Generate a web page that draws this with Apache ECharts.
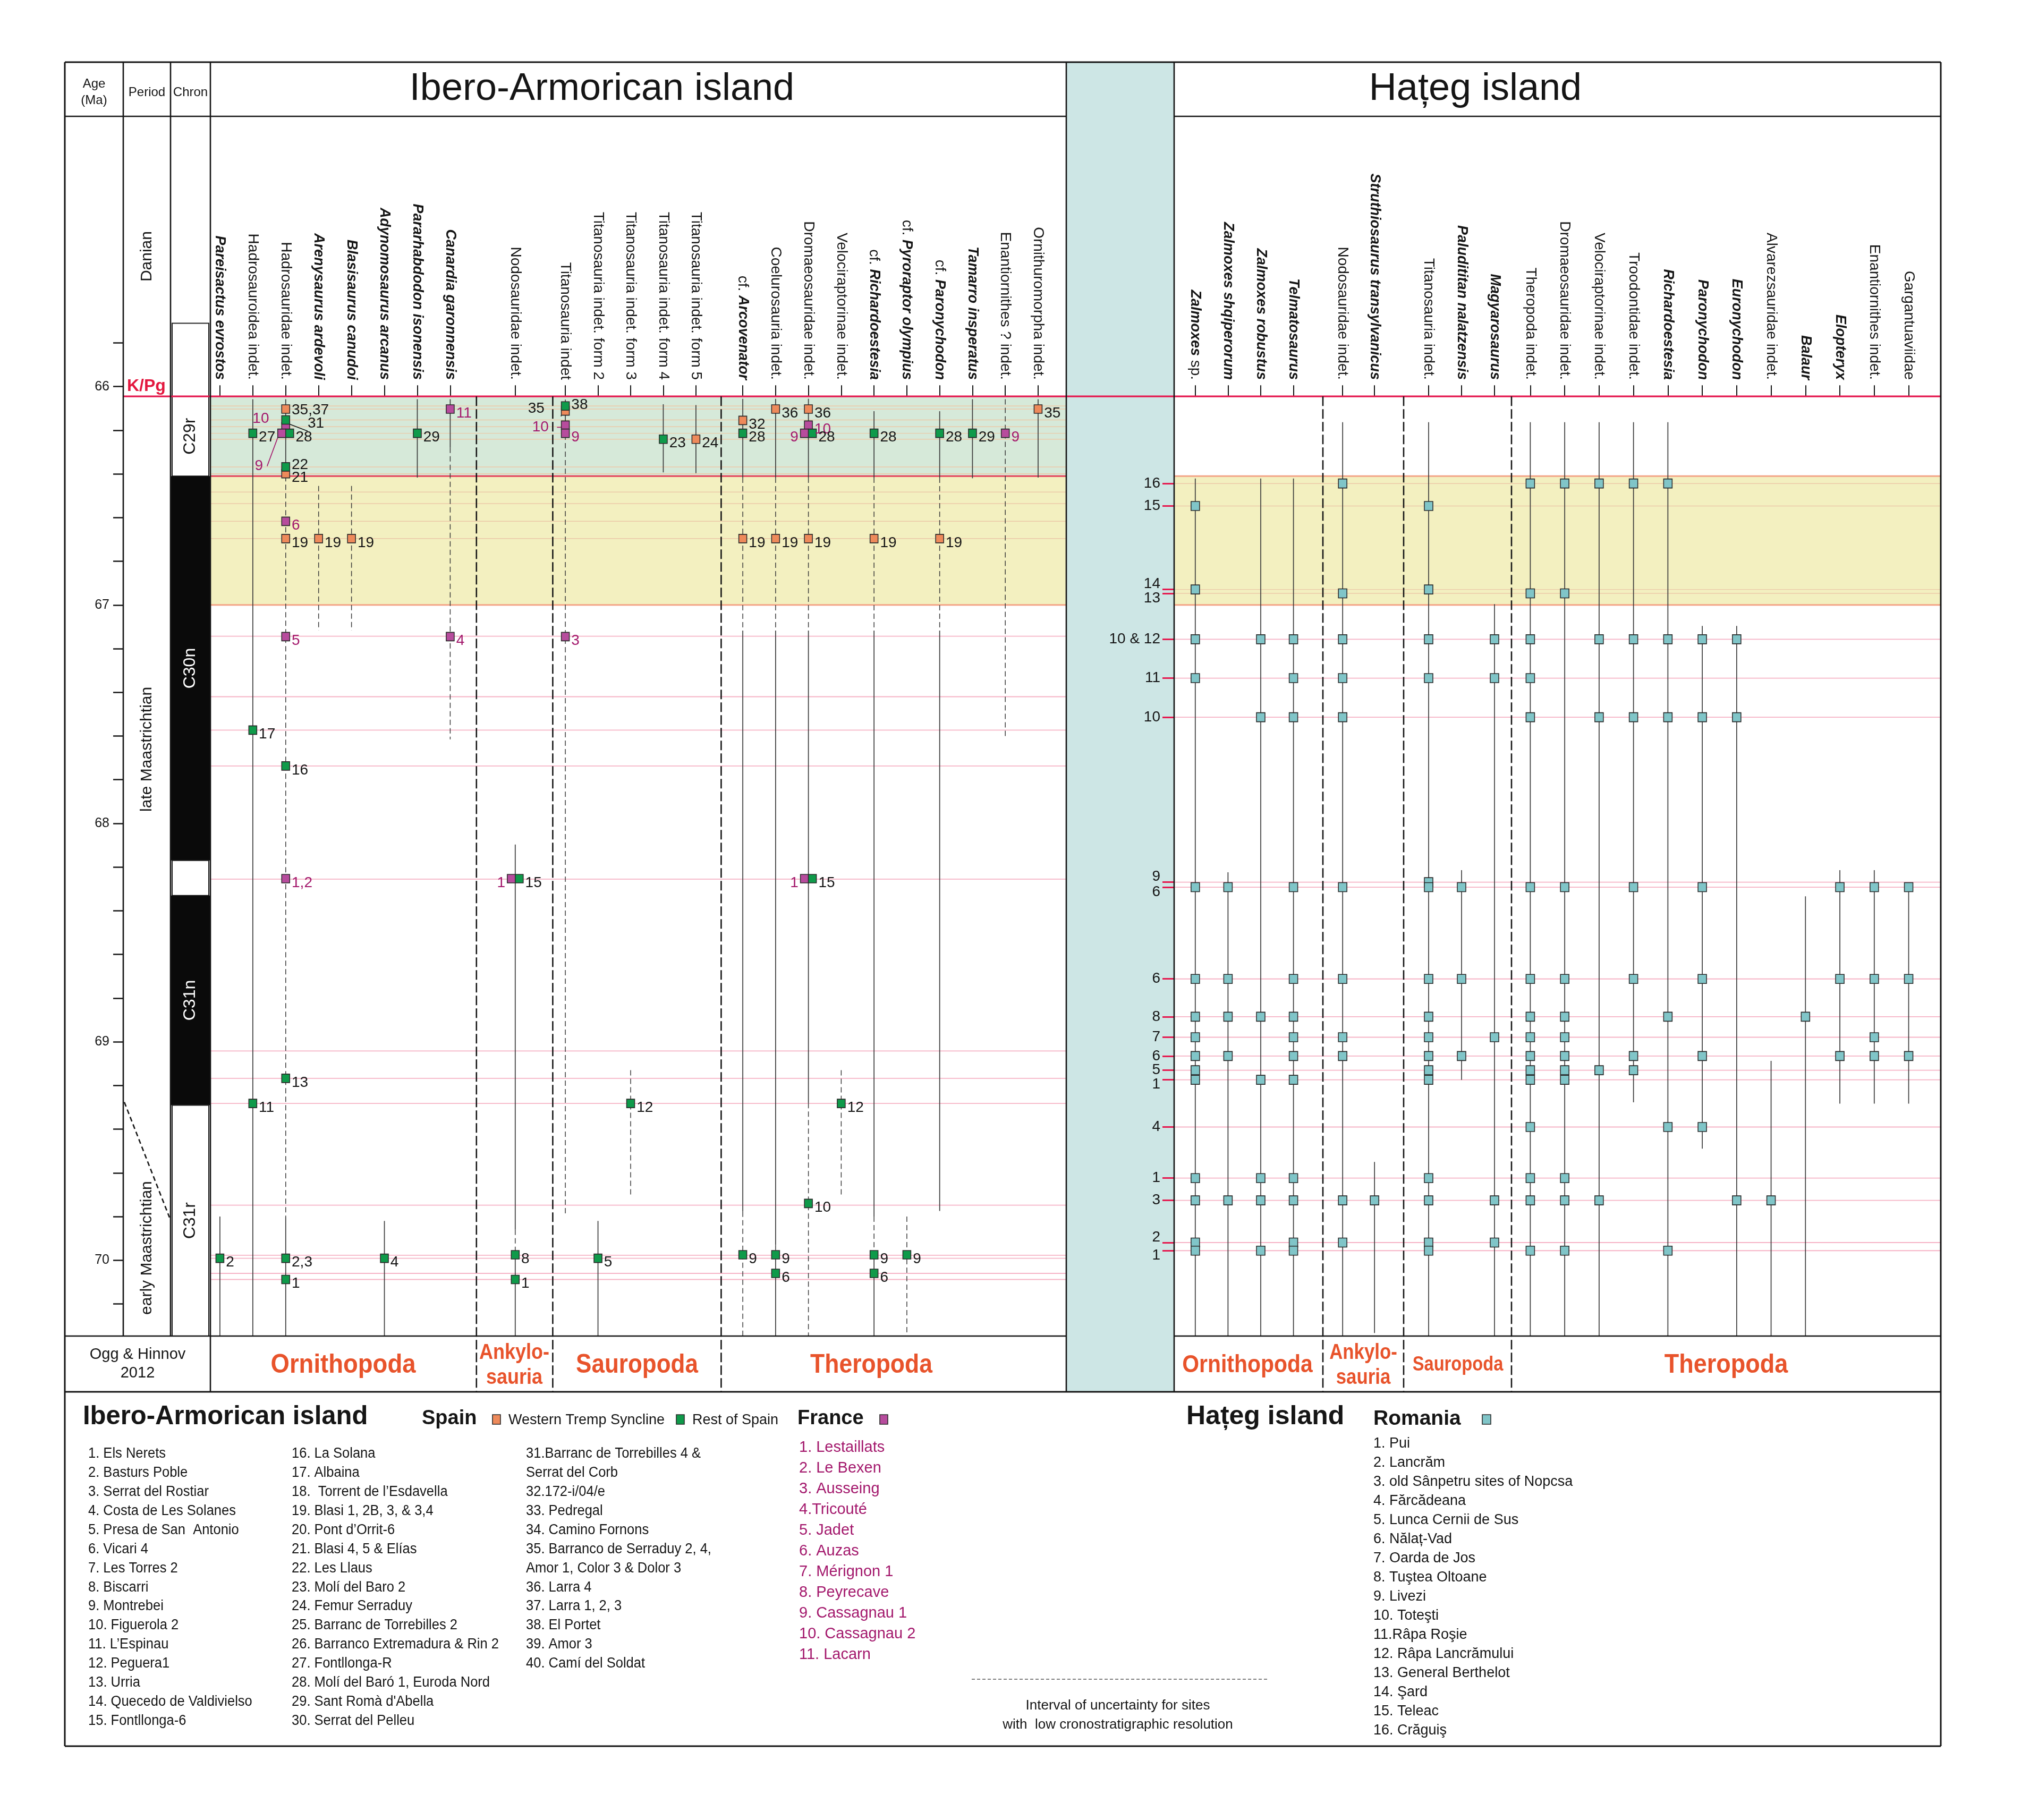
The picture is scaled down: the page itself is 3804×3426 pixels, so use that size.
<!DOCTYPE html>
<html><head><meta charset="utf-8">
<script src="https://cdn.jsdelivr.net/npm/echarts@6/dist/echarts.min.js"></script>
<style>html,body{margin:0;padding:0;background:#fff}#c{width:3804px;height:3426px}</style>
</head><body><div id="c"></div>
<script>
// ======================= DATA =======================
const AGE_TOP = 64.763;      // age at top of plot area (Ma)
const AGE_BOTTOM = 70.347;   // age at bottom of plot area (Ma)
const KPG = 66.045;          // K/Pg boundary (Ma)

const ageTicks = [65.8,66.0,66.2,66.4,66.6,66.8,67.0,67.2,67.4,67.6,67.8,68.0,68.2,68.4,68.6,68.8,69.0,69.2,69.4,69.6,69.8,70.0,70.2];
const ageLabels = [66,67,68,69,70];

const periods = [['Danian',64.763,66.045],['late Maastrichtian',66.045,69.276],['early Maastrichtian',69.54,70.347]];
const periodBoundary = [69.276, 69.804];
const chrons = [['C29r',65.71,66.41,'r'],['C30n',66.41,68.17,'n'],['',68.17,68.33,'r'],['C31n',68.33,69.29,'n'],['C31r',69.29,70.347,'r']];

const iberoBands = [[66.045,66.41],[66.41,67.0]];
const hategBands = [[66.41,67.0]];

const iberoLevels = [66.089,66.103,66.153,66.184,66.214,66.241,66.368,66.399,66.483,66.536,66.617,66.696,67.143,67.42,67.573,67.737,68.255,69.042,69.167,69.282,69.748,69.977,69.991,70.06,70.088];
const hategLevels = [['16',66.444],['15',66.547],['14',66.929],['13',66.947],['10 & 12',67.157],['11',67.335],['10',67.514],['9',68.269],['6',68.292],['6',68.712],['8',68.885],['7',68.979],['6',69.065],['5',69.13],['1',69.174],['4',69.39],['1',69.624],['3',69.726],['2',69.919],['1',69.956]];

const iberoOrnithopoda = ['Pareisactus evrostos','Hadrosauroidea indet.','Hadrosauridae indet.','Arenysaurus ardevoli','Blasisaurus canudoi','Adynomosaurus arcanus','Pararhabdodon isonensis','Canardia garonnensis'];
const iberoAnkylosauria = ['Nodosauridae indet.'];
const iberoSauropoda = ['Titanosauria indet','Titanosauria indet. form 2','Titanosauria indet. form 3','Titanosauria indet. form 4','Titanosauria indet. form 5'];
const iberoTheropoda = ['cf. Arcovenator','Coelurosauria indet.','Dromaeosauridae indet.','Velociraptorinae indet.','cf. Richardoestesia','cf. Pyroraptor olympius','cf. Paronychodon','Tamarro insperatus','Enantiornithes ? indet.','Ornithuromorpha indet.'];
const iberoItalic = ['Pareisactus evrostos','Arenysaurus ardevoli','Blasisaurus canudoi','Adynomosaurus arcanus','Pararhabdodon isonensis','Canardia garonnensis','cf. Arcovenator','cf. Richardoestesia','cf. Pyroraptor olympius','cf. Paronychodon','Tamarro insperatus'];

const hategOrnithopoda = ['Zalmoxes sp.','Zalmoxes shqiperorum','Zalmoxes robustus','Telmatosaurus'];
const hategAnkylosauria = ['Nodosauridae indet.','Struthiosaurus transylvanicus'];
const hategSauropoda = ['Titanosauria indet.','Paludititan nalatzensis','Magyarosaurus'];
const hategTheropoda = ['Theropoda indet.','Dromaeosauridae indet.','Velociraptorinae indet.','Troodontidae indet.','Richardoestesia','Paronychodon','Euronychodon','Alvarezsauridae indet.','Balaur','Elopteryx','Enantiornithes indet.','Gargantuaviidae'];
const hategItalic = ['Zalmoxes sp.','Zalmoxes shqiperorum','Zalmoxes robustus','Telmatosaurus','Struthiosaurus transylvanicus','Paludititan nalatzensis','Magyarosaurus','Richardoestesia','Paronychodon','Euronychodon','Balaur','Elopteryx'];

// [taxon, age (Ma), site label, region]  W = Western Tremp Syncline, S = rest of Spain, F = France
const iberoPoints = [
 ['Pareisactus evrostos',69.991,'2','S'],
 ['Hadrosauroidea indet.',66.214,'27','S'],['Hadrosauroidea indet.',67.573,'17','S'],['Hadrosauroidea indet.',69.282,'11','S'],
 ['Hadrosauridae indet.',66.184,'10','F'],['Hadrosauridae indet.',66.103,'35,37','W'],['Hadrosauridae indet.',66.153,'31','S'],
 ['Hadrosauridae indet.',66.214,'9','F'],['Hadrosauridae indet.',66.214,'28','S'],['Hadrosauridae indet.',66.399,'21','W'],
 ['Hadrosauridae indet.',66.368,'22','S'],['Hadrosauridae indet.',66.617,'6','F'],['Hadrosauridae indet.',66.696,'19','W'],
 ['Hadrosauridae indet.',67.145,'5','F'],['Hadrosauridae indet.',67.737,'16','S'],['Hadrosauridae indet.',68.253,'1,2','F'],
 ['Hadrosauridae indet.',69.167,'13','S'],['Hadrosauridae indet.',69.991,'2,3','S'],['Hadrosauridae indet.',70.088,'1','S'],
 ['Arenysaurus ardevoli',66.696,'19','W'],['Blasisaurus canudoi',66.696,'19','W'],['Adynomosaurus arcanus',69.991,'4','S'],
 ['Pararhabdodon isonensis',66.214,'29','S'],['Canardia garonnensis',66.103,'11','F'],['Canardia garonnensis',67.145,'4','F'],
 ['Nodosauridae indet.',68.253,'1','F'],['Nodosauridae indet.',68.253,'15','S'],['Nodosauridae indet.',69.975,'8','S'],['Nodosauridae indet.',70.088,'1','S'],
 ['Titanosauria indet',66.112,'35','W'],['Titanosauria indet',66.089,'38','S'],['Titanosauria indet',66.177,'10','F'],
 ['Titanosauria indet',66.214,'9','F'],['Titanosauria indet',67.145,'3','F'],
 ['Titanosauria indet. form 2',69.991,'5','S'],['Titanosauria indet. form 3',69.282,'12','S'],
 ['Titanosauria indet. form 4',66.241,'23','S'],['Titanosauria indet. form 5',66.241,'24','W'],
 ['cf. Arcovenator',66.155,'32','W'],['cf. Arcovenator',66.214,'28','S'],['cf. Arcovenator',66.696,'19','W'],['cf. Arcovenator',69.975,'9','S'],
 ['Coelurosauria indet.',66.103,'36','W'],['Coelurosauria indet.',66.696,'19','W'],['Coelurosauria indet.',69.975,'9','S'],['Coelurosauria indet.',70.06,'6','S'],
 ['Dromaeosauridae indet.',66.103,'36','W'],['Dromaeosauridae indet.',66.177,'10','F'],['Dromaeosauridae indet.',66.214,'9','F'],
 ['Dromaeosauridae indet.',66.214,'28','S'],['Dromaeosauridae indet.',66.696,'19','W'],['Dromaeosauridae indet.',68.253,'1','F'],
 ['Dromaeosauridae indet.',68.253,'15','S'],['Dromaeosauridae indet.',69.74,'10','S'],
 ['Velociraptorinae indet.',69.282,'12','S'],
 ['cf. Richardoestesia',66.214,'28','S'],['cf. Richardoestesia',66.696,'19','W'],['cf. Richardoestesia',69.975,'9','S'],['cf. Richardoestesia',70.06,'6','S'],
 ['cf. Pyroraptor olympius',69.975,'9','S'],
 ['cf. Paronychodon',66.214,'28','S'],['cf. Paronychodon',66.696,'19','W'],
 ['Tamarro insperatus',66.214,'29','S'],['Enantiornithes ? indet.',66.214,'9','F'],['Ornithuromorpha indet.',66.103,'35','W']
];

// [taxon, from (Ma), to (Ma), line type]
const iberoRanges = [
 ['Pareisactus evrostos',69.80,70.347,'solid'],
 ['Hadrosauroidea indet.',66.058,70.347,'solid'],
 ['Hadrosauridae indet.',66.058,66.41,'solid'],['Hadrosauridae indet.',66.41,69.80,'dashed'],['Hadrosauridae indet.',69.80,70.347,'solid'],
 ['Arenysaurus ardevoli',66.455,67.117,'dashed'],['Blasisaurus canudoi',66.455,67.117,'dashed'],
 ['Adynomosaurus arcanus',69.82,70.347,'solid'],['Pararhabdodon isonensis',66.058,66.417,'solid'],
 ['Canardia garonnensis',66.058,66.28,'solid'],['Canardia garonnensis',66.28,67.615,'dashed'],
 ['Nodosauridae indet.',68.097,69.86,'solid'],['Nodosauridae indet.',69.86,69.975,'dashed'],['Nodosauridae indet.',69.975,70.347,'solid'],
 ['Titanosauria indet',66.06,66.22,'solid'],['Titanosauria indet',66.22,69.80,'dashed'],
 ['Titanosauria indet. form 2',69.82,70.347,'solid'],['Titanosauria indet. form 3',69.13,69.70,'dashed'],
 ['Titanosauria indet. form 4',66.081,66.393,'solid'],['Titanosauria indet. form 5',66.085,66.397,'solid'],
 ['cf. Arcovenator',66.056,66.417,'solid'],['cf. Arcovenator',66.417,67.117,'dashed'],['cf. Arcovenator',67.117,69.777,'solid'],['cf. Arcovenator',69.777,70.347,'dashed'],
 ['Coelurosauria indet.',66.056,66.417,'solid'],['Coelurosauria indet.',66.417,67.117,'dashed'],['Coelurosauria indet.',67.117,69.93,'solid'],['Coelurosauria indet.',69.93,69.975,'dashed'],['Coelurosauria indet.',69.975,70.347,'solid'],
 ['Dromaeosauridae indet.',66.056,66.417,'solid'],['Dromaeosauridae indet.',66.417,67.117,'dashed'],['Dromaeosauridae indet.',67.117,69.28,'solid'],['Dromaeosauridae indet.',69.28,70.347,'dashed'],
 ['Velociraptorinae indet.',69.13,69.70,'dashed'],
 ['cf. Richardoestesia',66.113,66.417,'solid'],['cf. Richardoestesia',66.417,67.117,'dashed'],['cf. Richardoestesia',67.117,69.80,'solid'],['cf. Richardoestesia',69.80,69.975,'dashed'],['cf. Richardoestesia',69.975,70.347,'solid'],
 ['cf. Pyroraptor olympius',69.80,70.347,'dashed'],
 ['cf. Paronychodon',66.113,66.417,'solid'],['cf. Paronychodon',66.417,67.117,'dashed'],['cf. Paronychodon',67.117,69.774,'solid'],
 ['Tamarro insperatus',66.058,66.42,'solid'],['Enantiornithes ? indet.',66.058,67.603,'dashed'],['Ornithuromorpha indet.',66.058,66.417,'solid']
];

// Haţeg occurrences: [taxon, [ages (Ma)]]
const hategPoints = [
 ['Zalmoxes sp.',[66.547,66.929,67.157,67.335,68.292,68.712,68.885,68.979,69.065,69.13,69.174,69.624,69.726,69.919,69.956]],
 ['Zalmoxes shqiperorum',[68.292,68.712,68.885,69.065,69.726]],
 ['Zalmoxes robustus',[67.157,67.514,68.885,69.174,69.624,69.726,69.956]],
 ['Telmatosaurus',[67.157,67.335,67.514,68.292,68.712,68.885,68.979,69.065,69.174,69.624,69.726,69.919,69.956]],
 ['Nodosauridae indet.',[66.444,66.947,67.157,67.335,67.514,68.292,68.712,68.979,69.065,69.726,69.919]],
 ['Struthiosaurus transylvanicus',[69.726]],
 ['Titanosauria indet.',[66.547,66.929,67.157,67.335,68.269,68.292,68.712,68.885,68.979,69.065,69.13,69.174,69.624,69.726,69.919,69.956]],
 ['Paludititan nalatzensis',[68.292,68.712,69.065]],
 ['Magyarosaurus',[67.157,67.335,68.979,69.726,69.919]],
 ['Theropoda indet.',[66.444,66.947,67.157,67.335,67.514,68.292,68.712,68.885,68.979,69.065,69.13,69.174,69.39,69.624,69.726,69.956]],
 ['Dromaeosauridae indet.',[66.444,66.947,68.292,68.712,68.885,68.979,69.065,69.13,69.174,69.624,69.726,69.956]],
 ['Velociraptorinae indet.',[66.444,67.157,67.514,69.13,69.726]],
 ['Troodontidae indet.',[66.444,67.157,67.514,68.292,68.712,69.065,69.13]],
 ['Richardoestesia',[66.444,67.157,67.514,68.885,69.39,69.956]],
 ['Paronychodon',[67.157,67.514,68.292,68.712,69.065,69.39]],
 ['Euronychodon',[67.157,67.514,69.726]],
 ['Alvarezsauridae indet.',[69.726]],
 ['Balaur',[68.885]],
 ['Elopteryx',[68.292,68.712,69.065]],
 ['Enantiornithes indet.',[68.292,68.712,68.979,69.065]],
 ['Gargantuaviidae',[68.292,68.712,69.065]]
];
const hategRanges = [
 ['Zalmoxes sp.',66.421,70.347],['Zalmoxes shqiperorum',68.224,70.347],['Zalmoxes robustus',66.421,70.347],['Telmatosaurus',66.421,70.347],
 ['Nodosauridae indet.',66.163,70.347],['Struthiosaurus transylvanicus',69.55,70.333],
 ['Titanosauria indet.',66.163,70.347],['Paludititan nalatzensis',68.214,69.174],['Magyarosaurus',66.996,70.347],
 ['Theropoda indet.',66.163,70.347],['Dromaeosauridae indet.',66.163,70.347],['Velociraptorinae indet.',66.163,70.347],
 ['Troodontidae indet.',66.163,69.277],['Richardoestesia',66.163,70.347],['Paronychodon',67.096,69.489],['Euronychodon',67.096,70.347],
 ['Alvarezsauridae indet.',69.087,70.347],['Balaur',68.334,70.347],['Elopteryx',68.214,69.283],['Enantiornithes indet.',68.214,69.283],['Gargantuaviidae',68.272,69.283]
];

const groupNames = ['Ornithopoda','Ankylo-\nsauria','Sauropoda','Theropoda'];

const spainSites1 = ['1. Els Nerets','2. Basturs Poble','3. Serrat del Rostiar','4. Costa de Les Solanes','5. Presa de San  Antonio','6. Vicari 4','7. Les Torres 2','8. Biscarri','9. Montrebei','10. Figuerola 2','11. L\u2019Espinau','12. Peguera1','13. Urria','14. Quecedo de Valdivielso','15. Fontllonga-6'];
const spainSites2 = ['16. La Solana','17. Albaina','18.  Torrent de l\u2019Esdavella','19. Blasi 1, 2B, 3, & 3,4','20. Pont d\u2019Orrit-6','21. Blasi 4, 5 & El\u00edas','22. Les Llaus','23. Mol\u00ed del Baro 2','24. Femur Serraduy','25. Barranc de Torrebilles 2','26. Barranco Extremadura & Rin 2','27. Fontllonga-R','28. Mol\u00ed del Bar\u00f3 1, Euroda Nord','29. Sant Rom\u00e0 d\'Abella','30. Serrat del Pelleu'];
const spainSites3 = ['31.Barranc de Torrebilles 4 &','Serrat del Corb','32.172-i/04/e','33. Pedregal','34. Camino Fornons','35. Barranco de Serraduy 2, 4,','Amor 1, Color 3 & Dolor 3','36. Larra 4','37. Larra 1, 2, 3','38. El Portet','39. Amor 3','40. Cam\u00ed del Soldat'];
const franceSites = ['1. Lestaillats','2. Le Bexen','3. Ausseing','4.Tricout\u00e9','5. Jadet','6. Auzas','7. M\u00e9rignon 1','8. Peyrecave','9. Cassagnau 1','10. Cassagnau 2','11. Lacarn'];
const romaniaSites = ['1. Pui','2. Lancr\u0103m','3. old S\u00e2npetru sites of Nopcsa','4. F\u0103rc\u0103deana','5. Lunca Cernii de Sus','6. N\u0103la\u021b-Vad','7. Oarda de Jos','8. Tu\u015ftea Oltoane','9. Livezi','10. Tote\u015fti','11.R\u00e2pa Ro\u015fie','12. R\u00e2pa Lancr\u0103mului','13. General Berthelot','14. \u015eard','15. Teleac','16. Cr\u0103gui\u015f'];

// ======================= STYLE / LAYOUT =======================
const SANS = '"Liberation Sans", Arial, Helvetica, sans-serif';
const fnt = (size, o = {}) => `${o.style || 'normal'} ${o.weight || 'normal'} ${size}px ${SANS}`;
const INK = '#151515';
const RED = '#e5194f';
const REGION = { W: '#ee8a5b', S: '#0f9a4a', F: '#b74c9d', R: '#80c5c8' };
const FR_TEXT = '#a3186c';
const GROUP_COLOR = '#e8532b';
const TEAL = '#cde6e5';

const L = { left: 122, right: 3653, top: 117, head: 219, plotB: 2515, legT: 2620, bottom: 3287,
  ageR: 232, periodR: 321, chronR: 396, iberoR: 2007, hategL: 2210 };
const yPx = (L.plotB - L.head) / (AGE_BOTTOM - AGE_TOP);
const yOf = a => L.head + (a - AGE_TOP) * yPx;
const taxaTop = yOf(KPG);

const iberoLayout = [
  { taxa: iberoOrnithopoda, first: 413.9, step: 61.93 },
  { taxa: iberoAnkylosauria, first: 969.8, step: 62 },
  { taxa: iberoSauropoda, first: 1064.1, step: 61.45 },
  { taxa: iberoTheropoda, first: 1398.1, step: 61.76 }
];
const hategLayout = [
  { taxa: hategOrnithopoda, first: 2249.8, step: 61.6 },
  { taxa: hategAnkylosauria, first: 2527.2, step: 60 },
  { taxa: hategSauropoda, first: 2689, step: 62 },
  { taxa: hategTheropoda, first: 2880.4, step: 64.74 }
];
const iberoSeparators = [896.8, 1040.4, 1357.4];
const hategSeparators = [2490, 2642, 2845];
// [centre x, font size, horizontal squeeze]
const iberoGroupLabels = [[646, 50, 0.91], [968, 40, 0.9], [1199, 50, 0.88], [1640, 50, 0.89]];
const hategGroupLabels = [[2348, 46, 0.89], [2566, 40, 0.87], [2744, 38, 0.86], [3249, 50, 0.9]];

const labelTweaks = {
  'Hadrosauridae indet.|10|F': { position: 'left', offset: [-20, -15], line: true },
  'Hadrosauridae indet.|9|F': { offset: [-24, 62], line: true },
  'Hadrosauridae indet.|31|S': { offset: [30, 7], line: true },
  'Hadrosauridae indet.|35,37|W': { offset: [0, 2] },
  'Hadrosauridae indet.|22|S': { offset: [0, -4] },
  'Titanosauria indet|35|W': { position: 'left', offset: [-28, -4], line: true },
  'Titanosauria indet|10|F': { position: 'left', offset: [-20, 4], line: true },
  'Titanosauria indet|38|S': { offset: [0, -2] }
};

// ======================= BUILD =======================
const grids = [], xAxes = [], yAxes = [], series = [], gfx = [];
function addGrid(left, width, top, bottom, xa, ya) {
  const gi = grids.length;
  grids.push({ left, width, top, height: bottom - top, show: false });
  xAxes.push(Object.assign({ gridIndex: gi }, xa));
  yAxes.push(Object.assign({ gridIndex: gi }, ya));
  return gi;
}
const hiddenX = { type: 'value', min: 0, max: 1, show: false };
const fullY = { type: 'value', min: AGE_TOP, max: AGE_BOTTOM, inverse: true, show: false };

function inAny(bands, a) { return bands.some(b => a > b[0] + 1e-6 && a < b[1] - 1e-6); }

// --- age / period grid
const gAge = addGrid(L.ageR, L.periodR - L.ageR, L.head, L.plotB, hiddenX, {
  type: 'value', min: AGE_TOP, max: AGE_BOTTOM, inverse: true, position: 'left',
  axisLine: { show: false }, splitLine: { show: false },
  axisTick: { show: true, customValues: ageTicks, length: 19, lineStyle: { color: INK, width: 2.5 } },
  axisLabel: { show: true, customValues: ageLabels, margin: 26, fontSize: 25, fontFamily: SANS, color: INK, formatter: v => String(Math.round(v)) }
});
series.push({
  type: 'custom', xAxisIndex: gAge, yAxisIndex: gAge, z: 6, silent: true, clip: false,
  data: periods.map(p => [0.5, p[1], p[2]]), encode: { x: 0, y: [1, 2] },
  renderItem(params, api) {
    const p = periods[params.dataIndex], cs = params.coordSys;
    const y1 = api.coord([0.5, p[1]])[1], y2 = api.coord([0.5, p[2]])[1];
    return { type: 'text', x: cs.x + cs.width / 2, y: (y1 + y2) / 2, rotation: Math.PI / 2,
      style: { text: p[0], font: fnt(30), fill: INK, align: 'center', verticalAlign: 'middle' } };
  }
});
series.push({
  type: 'custom', xAxisIndex: gAge, yAxisIndex: gAge, z: 6, silent: true, clip: false,
  data: [[0.5, periodBoundary[0], periodBoundary[1]]], encode: { x: 0, y: [1, 2] },
  renderItem(params, api) {
    const cs = params.coordSys;
    const y1 = api.coord([0.5, api.value(1)])[1], y2 = api.coord([0.5, api.value(2)])[1];
    return { type: 'line', shape: { x1: cs.x + 2, y1, x2: cs.x + cs.width - 2, y2 },
      style: { stroke: INK, lineWidth: 2.6, lineDash: [9, 6] } };
  }
});

// --- chron grid
const gChron = addGrid(L.periodR, L.chronR - L.periodR, L.head, L.plotB, hiddenX, fullY);
series.push({
  type: 'custom', xAxisIndex: gChron, yAxisIndex: gChron, z: 3, silent: true, clip: false,
  data: chrons.map(c => [0.5, c[1], c[2]]), encode: { x: 0, y: [1, 2] },
  renderItem(params, api) {
    const c = chrons[params.dataIndex], cs = params.coordSys;
    const y1 = api.coord([0.5, c[1]])[1], y2 = api.coord([0.5, c[2]])[1];
    const normal = c[3] === 'n';
    const children = [{ type: 'rect', shape: { x: cs.x + (normal ? 0 : 3), y: y1, width: cs.width - (normal ? 0 : 6), height: y2 - y1 },
      style: { fill: normal ? '#0a0a0a' : '#ffffff', stroke: normal ? null : '#222', lineWidth: 2 } }];
    if (c[0]) {
      const la = Math.max(c[1], KPG);
      const ym = (api.coord([0.5, la])[1] + y2) / 2;
      children.push({ type: 'text', x: cs.x + cs.width / 2, y: ym, rotation: Math.PI / 2,
        style: { text: c[0], font: fnt(32), fill: normal ? '#ffffff' : INK, align: 'center', verticalAlign: 'middle' } });
    }
    return { type: 'group', children };
  }
});

// --- background grids (bands + site lines)
function bandSeries(gi, bands, styles) {
  return { type: 'custom', xAxisIndex: gi, yAxisIndex: gi, z: 1, silent: true, clip: false,
    data: bands.map(b => [0.5, b[0], b[1]]), encode: { x: 0, y: [1, 2] },
    renderItem(params, api) {
      const cs = params.coordSys, st = styles[params.dataIndex];
      const y1 = api.coord([0.5, api.value(1)])[1], y2 = api.coord([0.5, api.value(2)])[1];
      return { type: 'rect', shape: { x: cs.x, y: y1, width: cs.width, height: y2 - y1 }, style: { fill: st.fill } };
    } };
}
function bandEdgeSeries(gi, bands, styles) {
  const edges = [];
  bands.forEach((b, i) => { if (styles[i].top) edges.push([b[0], styles[i].top]); if (styles[i].bottom) edges.push([b[1], styles[i].bottom]); });
  return { type: 'custom', xAxisIndex: gi, yAxisIndex: gi, z: 3, silent: true, clip: false,
    data: edges.map(e => [0.5, e[0]]), encode: { x: 0, y: 1 },
    renderItem(params, api) {
      const cs = params.coordSys, y = api.coord([0.5, api.value(1)])[1];
      return { type: 'line', shape: { x1: cs.x, y1: y, x2: cs.x + cs.width, y2: y }, style: { stroke: edges[params.dataIndex][1], lineWidth: 3 } };
    } };
}
function levelSeries(gi, ages, bands) {
  return { type: 'custom', xAxisIndex: gi, yAxisIndex: gi, z: 2, silent: true, clip: false,
    data: ages.map(a => [0.5, a]), encode: { x: 0, y: 1 },
    renderItem(params, api) {
      const cs = params.coordSys, a = api.value(1), y = api.coord([0.5, a])[1];
      const inside = inAny(bands, a);
      return { type: 'line', shape: { x1: cs.x, y1: y, x2: cs.x + cs.width, y2: y },
        style: { stroke: inside ? '#ecc9a8' : '#f6b3c5', lineWidth: inside ? 1.4 : 1.8 } };
    } };
}
const iberoBandStyle = [{ fill: '#d6e9d9', top: null, bottom: '#e4405a' }, { fill: '#f3f0c0', top: null, bottom: '#f3a487' }];
const hategBandStyle = [{ fill: '#f3f0c0', top: '#f3a487', bottom: '#f3a487' }];

const gIbBg = addGrid(L.chronR, L.iberoR - L.chronR, L.head, L.plotB, hiddenX, fullY);
series.push(bandSeries(gIbBg, iberoBands, iberoBandStyle));
series.push(levelSeries(gIbBg, iberoLevels, iberoBands));
series.push(bandEdgeSeries(gIbBg, iberoBands, iberoBandStyle));

// Haţeg background with site-level axis (labels of close levels pushed apart)
const lvlNudge = hategLevels.map((l, i) => {
  const prev = hategLevels[i - 1], next = hategLevels[i + 1];
  if (next && next[1] - l[1] < 0.04) return 'u';
  if (prev && l[1] - prev[1] < 0.046) return 'd';
  return 'n';
});
const gHaBg = addGrid(L.hategL, L.right - L.hategL, L.head, L.plotB, hiddenX, {
  type: 'value', min: AGE_TOP, max: AGE_BOTTOM, inverse: true, position: 'left',
  axisLine: { show: false }, splitLine: { show: false },
  axisTick: { show: true, customValues: hategLevels.map(l => l[1]), length: 22, lineStyle: { color: RED, width: 3 } },
  axisLabel: { show: true, customValues: hategLevels.map(l => l[1]), margin: 26, fontSize: 28, fontFamily: SANS, color: INK,
    formatter: v => { const i = hategLevels.findIndex(l => Math.abs(l[1] - v) < 1e-6); return i < 0 ? '' : `{${lvlNudge[i]}|${hategLevels[i][0]}}`; },
    rich: { u: { fontSize: 28, fontFamily: SANS, color: INK, padding: [0, 0, 20, 0] },
            d: { fontSize: 28, fontFamily: SANS, color: INK, padding: [18, 0, 0, 0] },
            n: { fontSize: 28, fontFamily: SANS, color: INK } } }
});
series.push(bandSeries(gHaBg, hategBands, hategBandStyle));
series.push(levelSeries(gHaBg, hategLevels.map(l => l[1]), hategBands));
series.push(bandEdgeSeries(gHaBg, hategBands, hategBandStyle));

// K/Pg line across everything
const gAll = addGrid(L.ageR, L.right - L.ageR, L.head, L.plotB, hiddenX, fullY);
series.push({ type: 'custom', xAxisIndex: gAll, yAxisIndex: gAll, z: 7, silent: true, clip: false,
  data: [[0.5, KPG]], encode: { x: 0, y: 1 },
  renderItem(params, api) {
    const cs = params.coordSys, y = api.coord([0.5, api.value(1)])[1];
    return { type: 'group', children: [
      { type: 'line', shape: { x1: cs.x, y1: y, x2: cs.x + cs.width, y2: y }, style: { stroke: RED, lineWidth: 3.2 } },
      { type: 'text', x: cs.x + 7, y: y - 3, style: { text: 'K/Pg', font: fnt(32, { weight: 'bold' }), fill: '#e3173e', align: 'left', verticalAlign: 'bottom' } }
    ] };
  } });

// --- taxa grids
function taxonFormatter(italics) {
  return v => {
    if (!italics.includes(v)) return v;
    if (v.startsWith('cf. ')) return 'cf. {i|' + v.slice(4) + '}';
    if (v.endsWith(' sp.')) return '{i|' + v.slice(0, -4) + '} sp.';
    return '{i|' + v + '}';
  };
}
function taxaGrid(layout, italics) {
  const n = layout.taxa.length;
  return addGrid(layout.first - layout.step / 2, n * layout.step, taxaTop, L.plotB, {
    type: 'category', data: layout.taxa, position: 'top', boundaryGap: true,
    axisLine: { show: false }, splitLine: { show: false },
    axisTick: { show: true, alignWithLabel: true, length: 21, lineStyle: { color: INK, width: 2 } },
    axisLabel: { show: true, interval: 0, rotate: 90, margin: 31, fontFamily: SANS, fontSize: 28, color: INK,
      formatter: taxonFormatter(italics),
      rich: { i: { fontFamily: SANS, fontSize: 27, fontStyle: 'italic', fontWeight: 'bold', color: INK } } }
  }, { type: 'value', min: KPG, max: AGE_BOTTOM, inverse: true, show: false });
}
function rangeSeries(gi, ranges) {
  return { type: 'custom', xAxisIndex: gi, yAxisIndex: gi, z: 4, silent: true, clip: false,
    dimensions: ['taxon', 'from', 'to', 'dash'],
    data: ranges.map(r => [r[0], r[1], r[2], r[3] === 'dashed' ? 1 : 0]), encode: { x: 0, y: [1, 2] },
    renderItem(params, api) {
      const x = api.value(0);
      const p1 = api.coord([x, api.value(1)]), p2 = api.coord([x, api.value(2)]);
      const dashed = api.value(3) === 1;
      return { type: 'line', shape: { x1: p1[0], y1: p1[1], x2: p2[0], y2: p2[1] },
        style: { stroke: '#3b3b3b', lineWidth: dashed ? 1.5 : 1.7, lineDash: dashed ? [10, 6] : 'solid' } };
    } };
}
const regionOrder = { F: 0, W: 1, S: 2, R: 3 };
function iberoScatter(gi, taxa) {
  const sel = iberoPoints.filter(p => taxa.includes(p[0]));
  const groups = {};
  sel.forEach(p => { const k = p[0] + '@' + p[1]; (groups[k] = groups[k] || []).push(p); });
  const data = sel.map(p => {
    const grp = groups[p[0] + '@' + p[1]];
    let symOff = [0, 0], pos = 'right';
    if (grp.length === 2) {
      const ord = grp.slice().sort((a, b) => regionOrder[a[3]] - regionOrder[b[3]]);
      const idx = ord.indexOf(p);
      symOff = [idx === 0 ? -7.5 : 7.5, 0];
      if (idx === 0) pos = 'left';
    }
    const tw = labelTweaks[p[0] + '|' + p[2] + '|' + p[3]] || {};
    const col = p[3] === 'F' ? FR_TEXT : INK;
    const item = { value: [p[0], p[1]], site: p[2], symbolOffset: symOff,
      itemStyle: { color: REGION[p[3]] },
      label: { position: tw.position || pos, offset: tw.offset || [0, 8], color: col } };
    if (tw.line) item.labelLine = { show: true, smooth: false, lineStyle: { color: col, width: 1.6 } };
    return item;
  });
  return { type: 'scatter', xAxisIndex: gi, yAxisIndex: gi, z: 6, silent: true, clip: false,
    symbol: 'rect', symbolSize: [15, 16],
    itemStyle: { borderColor: '#2b2b2b', borderWidth: 1.6, opacity: 1 },
    label: { show: true, distance: 3, fontSize: 28, fontFamily: SANS, formatter: p => p.data.site },
    labelLine: { show: false },
    data };
}
function hategScatter(gi, taxa) {
  const data = [];
  hategPoints.filter(p => taxa.includes(p[0])).forEach(p => p[1].forEach(a => data.push([p[0], a])));
  return { type: 'scatter', xAxisIndex: gi, yAxisIndex: gi, z: 6, silent: true, clip: false,
    symbol: 'rect', symbolSize: [16, 17],
    itemStyle: { color: REGION.R, borderColor: '#2b2b2b', borderWidth: 1.6, opacity: 1 }, data };
}
iberoLayout.forEach(lay => {
  const gi = taxaGrid(lay, iberoItalic);
  series.push(rangeSeries(gi, iberoRanges.filter(r => lay.taxa.includes(r[0]))));
  series.push(iberoScatter(gi, lay.taxa));
});
hategLayout.forEach(lay => {
  const gi = taxaGrid(lay, hategItalic);
  series.push(rangeSeries(gi, hategRanges.filter(r => lay.taxa.includes(r[0])).map(r => [r[0], r[1], r[2], 'solid'])));
  series.push(hategScatter(gi, lay.taxa));
});

// ======================= GRAPHIC (frame, headers, legend) =======================
function Ln(x1, y1, x2, y2, w = 2.6, color = INK, dash, z = 50) {
  gfx.push({ type: 'line', z, silent: true, shape: { x1, y1, x2, y2 }, style: { stroke: color, lineWidth: w, lineDash: dash || null } });
}
function Tx(x, y, text, font, o = {}) {
  const st = { text, font, fill: o.color || INK, align: o.align || 'left', verticalAlign: o.valign || 'middle',
    textAlign: o.align || 'left', textVerticalAlign: o.valign || 'middle' };
  if (o.lh) st.lineHeight = o.lh;
  gfx.push({ type: 'text', x, y, scaleX: o.sx || 1, rotation: o.rot || 0, z: o.z || 60, silent: true, style: st });
}
function Sq(x, y, w, h, color) {
  gfx.push({ type: 'rect', z: 60, silent: true, shape: { x, y, width: w, height: h }, style: { fill: color, stroke: '#2b2b2b', lineWidth: 1.6 } });
}
// teal column
gfx.push({ type: 'rect', z: 0, silent: true, shape: { x: L.iberoR, y: L.top, width: L.hategL - L.iberoR, height: L.legT - L.top }, style: { fill: TEAL } });
// frame
Ln(L.left, L.top, L.right, L.top, 3); Ln(L.left, L.bottom, L.right, L.bottom, 3);
Ln(L.left, L.top, L.left, L.bottom, 3); Ln(L.right, L.top, L.right, L.bottom, 3);
Ln(L.left, L.head, L.iberoR, L.head); Ln(L.hategL, L.head, L.right, L.head);
Ln(L.left, L.plotB, L.iberoR, L.plotB); Ln(L.hategL, L.plotB, L.right, L.plotB);
Ln(L.left, L.legT, L.right, L.legT, 3);
Ln(L.ageR, L.top, L.ageR, L.plotB); Ln(L.periodR, L.top, L.periodR, L.plotB);
Ln(L.chronR, L.top, L.chronR, L.legT); Ln(L.iberoR, L.top, L.iberoR, L.legT); Ln(L.hategL, L.top, L.hategL, L.legT);
// group separators
iberoSeparators.concat(hategSeparators).forEach(x => Ln(x, taxaTop, x, L.legT, 2.6, INK, [18, 6], 8));
// headers
Tx((L.left + L.ageR) / 2, 174, 'Age\n(Ma)', fnt(24), { align: 'center', lh: 31 });
Tx((L.ageR + L.periodR) / 2, 174, 'Period', fnt(24), { align: 'center' });
Tx((L.periodR + L.chronR) / 2, 174, 'Chron', fnt(24), { align: 'center' });
Tx(1133, 168, 'Ibero-Armorican island', fnt(72), { align: 'center' });
Tx(2777, 168, 'Ha\u021beg island', fnt(72), { align: 'center' });
// bottom row
Tx((L.left + L.chronR) / 2, 2567, 'Ogg & Hinnov\n2012', fnt(29), { align: 'center', lh: 35 });
groupNames.forEach((g, i) => {
  const two = g.includes('\n');
  const a = iberoGroupLabels[i], b = hategGroupLabels[i];
  Tx(a[0], 2570, g, fnt(a[1], { weight: 'bold' }), { align: 'center', color: GROUP_COLOR, lh: two ? 47 : undefined, sx: a[2] });
  Tx(b[0], 2570, g, fnt(b[1], { weight: 'bold' }), { align: 'center', color: GROUP_COLOR, lh: two ? 47 : undefined, sx: b[2] });
});
// legend - Ibero-Armorican
Tx(156, 2667, 'Ibero-Armorican island', fnt(50, { weight: 'bold' }), { sx: 0.98 });
Tx(794, 2671, 'Spain', fnt(38, { weight: 'bold' }));
Sq(927, 2663, 15, 18, REGION.W); Tx(957, 2674, 'Western Tremp Syncline', fnt(27));
Sq(1273, 2663, 15, 18, REGION.S); Tx(1303, 2674, 'Rest of Spain', fnt(27));
Tx(1501, 2671, 'France', fnt(38, { weight: 'bold' }));
Sq(1656, 2663, 15, 18, REGION.F);
spainSites1.forEach((s, i) => Tx(166, 2737 + i * 35.88, s, fnt(27), { sx: 0.945 }));
spainSites2.forEach((s, i) => Tx(549, 2737 + i * 35.88, s, fnt(27), { sx: 0.945 }));
spainSites3.forEach((s, i) => Tx(990, 2737 + i * 35.88, s, fnt(27), { sx: 0.945 }));
franceSites.forEach((s, i) => Tx(1504, 2725 + i * 39, s, fnt(29), { color: FR_TEXT }));
// legend - uncertainty
Ln(1829, 3161, 2385, 3161, 1.6, '#555', [6, 4], 60);
Tx(2104, 3211, 'Interval of uncertainty for sites', fnt(26), { align: 'center' });
Tx(2104, 3247, 'with  low cronostratigraphic resolution', fnt(26), { align: 'center' });
// legend - Hateg
Tx(2233, 2667, 'Ha\u021beg island', fnt(50, { weight: 'bold' }));
Tx(2585, 2671, 'Romania', fnt(39, { weight: 'bold' }));
Sq(2790, 2663, 16, 18, REGION.R);
romaniaSites.forEach((s, i) => Tx(2585, 2718 + i * 35.95, s, fnt(27)));

const chart = echarts.init(document.getElementById('c'), null, { renderer: 'canvas', width: 3804, height: 3426 });
chart.setOption({
  animation: false, backgroundColor: '#ffffff', textStyle: { fontFamily: SANS },
  grid: grids, xAxis: xAxes, yAxis: yAxes, series, graphic: { elements: gfx }
});
</script></body></html>
